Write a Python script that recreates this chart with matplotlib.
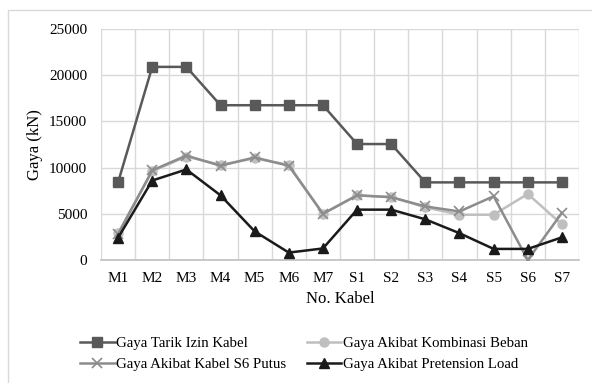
import matplotlib.pyplot as plt
from matplotlib.patches import Rectangle

kabel = ['M1', 'M2', 'M3', 'M4', 'M5', 'M6', 'M7',
         'S1', 'S2', 'S3', 'S4', 'S5', 'S6', 'S7']

tarik_izin = [8400, 20900, 20900, 16750, 16750, 16750, 16750,
              12550, 12550, 8400, 8400, 8400, 8400, 8400]
kombinasi = [2900, 9600, 11200, 10300, 11000, 10300, 5000,
             7000, 6800, 5700, 4900, 4900, 7150, 3850]
s6_putus = [2800, 9700, 11300, 10200, 11100, 10200, 5000,
            7000, 6800, 5800, 5250, 6900, 0, 5100]
pretension = [2400, 8600, 9800, 7000, 3100, 800, 1250,
              5450, 5450, 4400, 2900, 1200, 1200, 2450]

plt.rcParams['font.family'] = ['Liberation Serif', 'DejaVu Serif']

fig = plt.figure(figsize=(5.92, 3.83), dpi=100)
fig.patches.append(Rectangle((8 / 592, -0.1), 1.2, (383 - 10) / 383 + 0.1,
                             transform=fig.transFigure, fill=False,
                             edgecolor='#d9d9d9', linewidth=1.0))
ax = fig.add_axes([101 / 592, (383 - 260) / 383, 478 / 592, 231 / 383])

x = list(range(len(kabel)))
h1, = ax.plot(x, tarik_izin, color='#595959', marker='s', markersize=6.5,
              linewidth=1.8, label='Gaya Tarik Izin Kabel', zorder=3)
h2, = ax.plot(x, kombinasi, color='#bfbfbf', marker='o', markersize=6.5,
              linewidth=1.8, label='Gaya Akibat Kombinasi Beban', zorder=3)
h3, = ax.plot(x, s6_putus, color='#8c8c8c', marker='x', markersize=6.5,
              markeredgewidth=1.2, linewidth=1.8,
              label='Gaya Akibat Kabel S6 Putus', zorder=3)
h4, = ax.plot(x, pretension, color='#1a1a1a', marker='^', markersize=6.5,
              linewidth=1.8, label='Gaya Akibat Pretension Load', zorder=4)

ax.set_xlim(-0.5, len(kabel) - 0.5)
ax.set_ylim(0, 25000)
ax.set_yticks(range(0, 25001, 5000))
ax.set_xticks(x)
ax.set_xticklabels(kabel)
ax.set_xticks([i - 0.5 for i in range(len(kabel) + 1)], minor=True)
ax.grid(which='minor', axis='x', color='#d9d9d9', linewidth=1.0)
ax.grid(which='major', axis='y', color='#d9d9d9', linewidth=1.0)
ax.set_axisbelow(True)
ax.tick_params(which='both', length=0, labelsize=11)
ax.tick_params(axis='x', pad=9)
ax.tick_params(axis='y', pad=10)
for side in ['left', 'top', 'right']:
    ax.spines[side].set_visible(False)
ax.spines['bottom'].set_color('#bfbfbf')
ax.spines['bottom'].set_linewidth(1.2)

ax.set_xlabel('No. Kabel', fontsize=12, labelpad=4)
ax.set_ylabel('Gaya (kN)', fontsize=12, labelpad=4)

# legend fills column-first, so order handles to read row by row
fig.legend([h1, h3, h2, h4],
           [h.get_label() for h in (h1, h3, h2, h4)],
           loc='center', bbox_to_anchor=(304 / 592, (383 - 354) / 383), ncol=2,
           frameon=False, fontsize=10.7, handlelength=2.3, handletextpad=0.1,
           columnspacing=1.4, labelspacing=0.55)

fig.savefig('out.png', dpi=100)
